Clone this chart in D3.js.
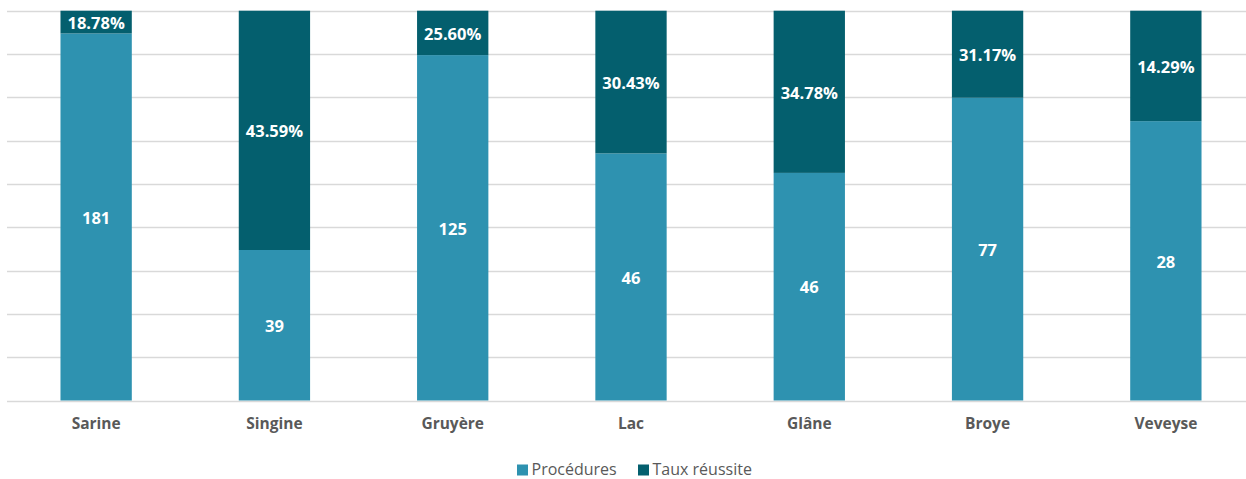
<!DOCTYPE html>
<html><head><meta charset="utf-8">
<script src="https://cdn.jsdelivr.net/npm/d3@7"></script>
<style>
html,body{margin:0;padding:0;background:#fff;}
svg{display:block;font-family:"Open Sans","Noto Sans",sans-serif;}
</style></head>
<body><svg id="c" width="1246" height="479"></svg>
<script>
// Data
const categories = ["Sarine","Singine","Gruyère","Lac","Glâne","Broye","Veveyse"];
const procedures = [181, 39, 125, 46, 46, 77, 28];            // labels of lower segments
const tauxReussite = ["18.78%","43.59%","25.60%","30.43%","34.78%","31.17%","14.29%"]; // labels of upper segments
// Visible heights of the segments on the chart axis (0–180 scale, gridlines every 20)
const procHeight = [169.5, 69.5, 159.5, 114.1, 105.1, 139.8, 129.0];
const axisMax = 180;
const axisStep = 20;
const seriesNames = ["Procédures","Taux réussite"];
const colors = ["#2E92B0","#045F6E"];

const svg = d3.select("#c");
const x = d3.scaleBand().domain(categories).range([7, 1255]).paddingInner(0.6).paddingOuter(0.3);
const y = d3.scaleLinear().domain([0, axisMax]).range([400.5, 10.7]);

// gridlines
svg.append("g").selectAll("line").data(d3.range(0, axisMax + 1, axisStep)).join("line")
  .attr("x1", 7).attr("x2", 1255)
  .attr("y1", d => Math.round(y(d)) + 0.5).attr("y2", d => Math.round(y(d)) + 0.5)
  .attr("stroke", "#d9d9d9").attr("stroke-width", 1.5);

const rows = categories.map((c, i) => ({cat: c, lo: procHeight[i], i}));

// lower segments
svg.append("g").selectAll("rect").data(rows).join("rect")
  .attr("x", d => x(d.cat)).attr("width", x.bandwidth())
  .attr("y", d => y(d.lo)).attr("height", d => y(0) - y(d.lo))
  .attr("fill", colors[0]);
// upper segments
svg.append("g").selectAll("rect").data(rows).join("rect")
  .attr("x", d => x(d.cat)).attr("width", x.bandwidth())
  .attr("y", y(axisMax)).attr("height", d => y(d.lo) - y(axisMax))
  .attr("fill", colors[1]);

// labels
const lbl = svg.append("g").attr("font-weight", "bold").attr("font-size", 16.5).attr("fill", "#fff")
  .attr("text-anchor", "middle");
lbl.selectAll("text.lo").data(rows).join("text").attr("class", "lo")
  .attr("x", d => x(d.cat) + x.bandwidth() / 2)
  .attr("y", d => (y(0) + y(d.lo)) / 2 + 1).attr("dy", "0.35em")
  .text(d => procedures[d.i]);
lbl.selectAll("text.hi").data(rows).join("text").attr("class", "hi")
  .attr("x", d => x(d.cat) + x.bandwidth() / 2)
  .attr("y", d => (y(axisMax) + y(d.lo)) / 2 + 1).attr("dy", "0.35em")
  .text(d => tauxReussite[d.i]);

// x axis labels
const xAxis = d3.axisBottom(x).tickSize(0).tickPadding(0);
const ga = svg.append("g").attr("transform", "translate(0,424)").call(xAxis);
ga.select(".domain").remove();
ga.selectAll("text").attr("font-family", "'Open Sans','Noto Sans',sans-serif")
  .attr("font-size", 15.5).attr("font-weight", "bold").attr("fill", "#595959").attr("dy", "0.35em");

// legend
const leg = svg.append("g");
const legX = [517, 638];
seriesNames.forEach((n, i) => {
  leg.append("rect").attr("x", legX[i]).attr("y", 464.5).attr("width", 11).attr("height", 11).attr("fill", colors[i]);
  leg.append("text").attr("x", legX[i] + 14.5).attr("y", 474.5)
    .attr("font-size", 16).attr("fill", "#595959").text(n);
});
</script></body></html>
